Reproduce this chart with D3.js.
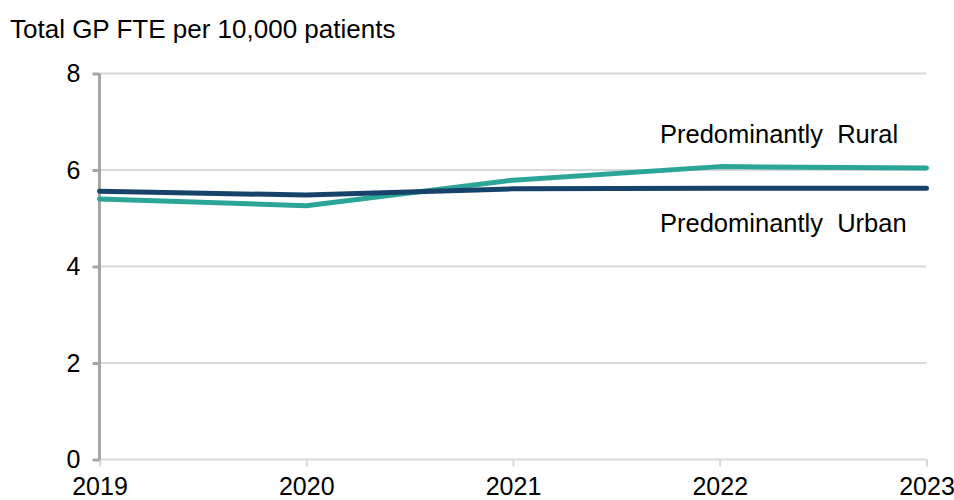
<!DOCTYPE html>
<html>
<head>
<meta charset="utf-8">
<script src="https://cdn.jsdelivr.net/npm/d3@7"></script>
<style>
  html, body { margin: 0; padding: 0; background: #fff; }
  svg { display: block; font-family: "Liberation Sans", Arial, sans-serif; }
</style>
</head>
<body>
<svg id="chart" width="954" height="500"></svg>
<script>
const years = [2019, 2020, 2021, 2022, 2023];
const urbanValues = [5.56, 5.48, 5.61, 5.62, 5.62];
const ruralValues = [5.40, 5.26, 5.79, 6.07, 6.04];
const yTicks = [0, 2, 4, 6, 8];
const seriesNames = ["Predominantly  Rural", "Predominantly  Urban"];
const yTitle = "Total GP FTE per 10,000 patients";

const svg = d3.select("#chart");
const x = d3.scaleLinear().domain([2019, 2023]).range([99.5, 926.5]);
const y = d3.scaleLinear().domain([0, 8]).range([459.5, 73.5]);

// gridlines
svg.append("g").selectAll("line").data(yTicks.filter(d => d > 0)).join("line")
  .attr("x1", x(2019)).attr("x2", x(2023))
  .attr("y1", d => y(d)).attr("y2", d => y(d))
  .attr("stroke", "#d9d9d9").attr("stroke-width", 2);

// x axis
const xAxis = svg.append("g").attr("transform", `translate(0,${y(0)})`)
  .call(d3.axisBottom(x).tickValues(years).tickFormat(d3.format("d")).tickSize(7).tickPadding(11));
xAxis.select(".domain").attr("stroke", "#d9d9d9").attr("stroke-width", 2)
  .attr("d", `M${x(2019)},0H${x(2023)}`);
xAxis.selectAll(".tick line").attr("stroke", "#d9d9d9").attr("stroke-width", 2);
xAxis.selectAll(".tick text").attr("font-size", 25).attr("fill", "#000")
  .attr("font-family", "Liberation Sans, Arial, sans-serif");

// y axis
const yAxis = svg.append("g").attr("transform", `translate(${x(2019)},0)`)
  .call(d3.axisLeft(y).tickValues(yTicks).tickSize(7).tickPadding(12));
yAxis.select(".domain").attr("stroke", "#a6a6a6").attr("stroke-width", 3)
  .attr("d", `M0,${y(8)}V${y(0)}`);
yAxis.selectAll(".tick line").attr("stroke", "#a6a6a6").attr("stroke-width", 3);
yAxis.selectAll(".tick text").attr("font-size", 25).attr("fill", "#000")
  .attr("font-family", "Liberation Sans, Arial, sans-serif");

// lines
const line = d3.line().x((d, i) => x(years[i])).y(d => y(d));
svg.append("path").datum(ruralValues).attr("d", line)
  .attr("fill", "none").attr("stroke", "#2ba597").attr("stroke-width", 5)
  .attr("stroke-linecap", "round").attr("stroke-linejoin", "round");
svg.append("path").datum(urbanValues).attr("d", line)
  .attr("fill", "none").attr("stroke", "#17436b").attr("stroke-width", 5)
  .attr("stroke-linecap", "round").attr("stroke-linejoin", "round");

// labels
svg.append("text").attr("x", 660).attr("y", 143).attr("font-size", 25.5)
  .attr("xml:space", "preserve").style("white-space", "pre")
  .text(seriesNames[0]);
svg.append("text").attr("x", 660).attr("y", 232).attr("font-size", 25.5)
  .attr("xml:space", "preserve").style("white-space", "pre")
  .text(seriesNames[1]);

// title
svg.append("text").attr("x", 10).attr("y", 38).attr("font-size", 26)
  .text(yTitle);
</script>
</body>
</html>
